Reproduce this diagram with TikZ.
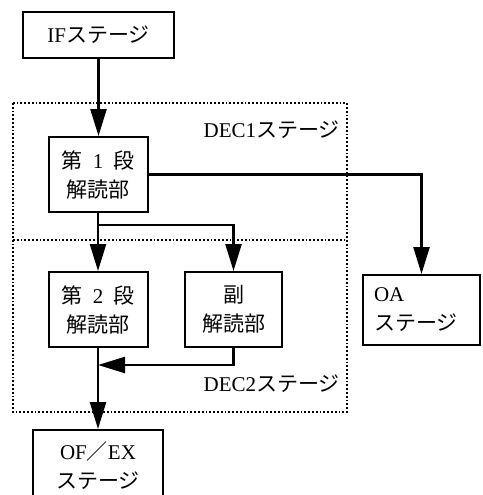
\documentclass[tikz,border=0pt]{standalone}
\usepackage{fontspec}
\setmainfont{Liberation Serif}
\newfontfamily\cjk{Noto Sans CJK JP}
\usetikzlibrary{arrows.meta}
\newcommand\jp[1]{{\cjk #1}}
\tikzset{
  blk/.style={draw, line width=2pt, minimum width=#1, inner sep=0pt, align=center, font=\fontsize{21}{29}\selectfont},
  blk/.default=99pt,
  conn/.style={line width=2.4pt},
  arr/.style={conn, -{Triangle[width=16pt,length=27pt]}},
  frame/.style={dotted, line width=1.8pt},
  lbl/.style={font=\fontsize{21}{26}\selectfont, inner sep=0pt}
}
\begin{document}
\begin{tikzpicture}[x=1pt,y=-1pt]
\useasboundingbox (0,0) rectangle (482,495);
\draw[frame] (13,103) rectangle (347,412);
\draw[frame] (13,240) -- (347,240);
\node[lbl, anchor=east] (d1l) at (340,130) {DEC1\jp{ステージ}};
\node[lbl, anchor=east] (d2l) at (340,384) {DEC2\jp{ステージ}};
\node[blk=151pt, minimum height=46pt] (IF) at (98.5,35) {IF\jp{ステージ}};
\node[blk, minimum height=75pt] (dec1) at (98,174.5) {\jp{第}\enspace1\enspace\jp{段}\\\jp{解読部}};
\node[blk, minimum height=75pt] (dec2) at (98,309.5) {\jp{第}\enspace2\enspace\jp{段}\\\jp{解読部}};
\node[blk=97pt, minimum height=75pt] (sub) at (233.5,309.5) {\jp{副}\\\jp{解読部}};
\node[blk=117pt, minimum height=70pt, align=left, text width=95pt] (OA) at (421.5,310) {OA\\\jp{ステージ}};
\node[blk=130pt, minimum height=72pt] (OFEX) at (98,466) {OF\jp{／}EX\\\jp{ステージ}};
\coordinate (br) at (98,225);
\coordinate (jn) at (98,365);
\draw[arr] (IF.south) -- (IF.south |- dec1.north);
\draw[arr] (dec1.east) -| (OA.north);
\draw[arr] (dec1.south) -- (dec2.north);
\draw[arr] (br) -| (sub.north);
\draw[arr] (sub.south) |- (jn);
\draw[arr] (dec2.south) -- (OFEX.north);
\end{tikzpicture}
\end{document}
